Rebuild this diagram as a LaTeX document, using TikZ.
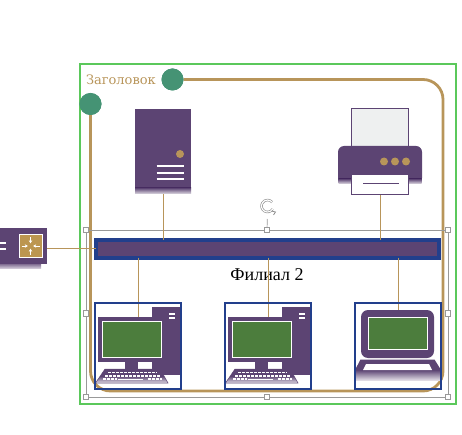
\documentclass[tikz,border=0pt]{standalone}
\usepackage{fontspec}
\setmainfont{Liberation Serif}
\newfontfamily\headfont{DejaVu Serif}
\usepackage{tikz}
\usetikzlibrary{arrows.meta, shapes}

\definecolor{plum}{HTML}{5C4473}
\definecolor{tan}{HTML}{B8955A}
\definecolor{navy}{HTML}{223F8C}
\definecolor{frame}{HTML}{5BC85B}
\definecolor{teal}{HTML}{459374}
\definecolor{screen}{HTML}{4C7D3D}
\definecolor{sheet}{HTML}{EEF0F0}
\definecolor{gold}{HTML}{BC9650}

\tikzset{
  block/.style={inner sep=0pt, outer sep=0pt, rectangle},
  pcbox/.style={block, draw=navy, line width=1.5pt, minimum width=86pt, minimum height=86pt},
  link/.style={draw=tan, line width=1pt},
  handle/.style={block, draw=gray!80, fill=white, line width=0.6pt, minimum size=5.5pt},
  dot/.style={circle, fill=tan, inner sep=0pt, minimum size=8pt},
  pin/.style={circle, fill=teal, inner sep=0pt, minimum size=22pt}
}

% monitor with tower, #1 is the left edge of its box
\newcommand{\pcicon}[1]{
\begin{scope}[xshift=#1pt]
  \fill[plum] (57,307) rectangle (86,375);
  \fill[plum] (3,317) rectangle (70,362);
  \fill[plum] (30,362) rectangle (43,369);
  \draw[white, line width=1pt] (7.5,321.5) rectangle (66,357.5);
  \fill[screen] (8,322) rectangle (65.5,357);
  \foreach \y in {314,318} \draw[white, line width=1.2pt] (74,\y) -- (80,\y);
  \shade[top color=plum, bottom color=plum!20, middle color=plum, draw=plum, line width=0.5pt]
    (10,369) -- (65,369) -- (73,383) -- (0.5,383) -- cycle;
  \foreach \y/\a/\b in {372.5/13/62, 376/10/65, 379/8/22, 379/53/67}
    \draw[white, line width=1.3pt, dash pattern=on 3pt off 1pt] (\a,\y) -- (\b,\y);
  \draw[white, line width=1.5pt] (23,379.5) -- (48,379.5);
\end{scope}
}

\begin{document}
\begin{tikzpicture}[x=1pt, y=-1pt]
\useasboundingbox (0,0) rectangle (462,435);

% outer frame and the heading
\node[block, draw=frame, line width=2pt, minimum width=376.5pt, minimum height=339.5pt] (area) at (267.75,234.25) {};
\node[block, text=tan, font=\fontsize{13}{13}\headfont, anchor=west] (title) at (86,79.5) {Заголовок};

\node[pin] (pinA) at (172.5,79.5) {};
\node[pin] (pinB) at (90.5,104) {};
\draw[tan, line width=2.8pt, rounded corners=20pt] (pinA) -- (443,79.5) -- (443,391) -- (90.5,391) -- (pinB);
\node[pin] at (pinA) {};
\node[pin] at (pinB) {};

% selection
\node[block, draw=gray!80, line width=0.7pt, minimum width=362pt, minimum height=167pt] (sel) at (267,313.5) {};
\foreach \p/\nm in {north west/a, north/b, north east/c, west/d, east/e, south west/f, south/g, south east/h}
  \node[handle] (h\nm) at (sel.\p) {};
\node[block, minimum size=14pt] (rot) at (267.5,212) {};
\draw[gray!80, line width=0.7pt] (hb) -- (rot);
\draw[gray!90, line width=0.6pt, double=white, double distance=1.2pt] (rot.center) ++(30:6pt) arc[start angle=-30, end angle=-320, radius=6pt];
\draw[gray!90, line width=0.8pt] (rot.center) ++(4,-1) -- ++(4,1) -- ++(-2,3);

% network nodes
\node[block, fill=plum, draw=white, minimum width=57pt, minimum height=86pt] (server) at (163,151) {};
\node[block, minimum width=57pt, minimum height=86pt] (printer) at (380,151) {};
\node[block, fill=plum, draw=navy, line width=4pt, minimum width=343pt, minimum height=18pt] (bar) at (267.5,248.5) {};
\node[block, minimum width=57pt, minimum height=36pt, anchor=east] (router) at (47,248.5) {};
\node[pcbox] (pcA) at (138,346) {};
\node[pcbox] (pcB) at (268,346) {};
\node[pcbox] (pcC) at (398,346) {};
\node[block, font=\fontsize{18}{18}\selectfont] (branch) at (267,275) {Филиал 2};

% connectors
\path[link] (server.south) edge (server.south |- bar.north)
            (printer.south) edge (printer.south |- bar.north)
            (router.east) edge (bar.west)
            (bar.south -| pcA) edge (pcA.center)
            (bar.south -| pcB) edge (pcB.center)
            (bar.south -| pcC) edge (pcC.center);

% server
\shade[top color=plum, bottom color=plum!25] (135,188) rectangle (191,193.5);
\node[dot] (lamp) at (180,154) {};
\foreach \y in {166,173,179} \draw[white, line width=1.2pt] (156.5,\y) -- (183.5,\y);

% printer
\draw[plum, fill=sheet, line width=0.7pt] (351,108) rectangle (408,148);
\fill[plum, rounded corners=6pt] (338,184) -- (338,146) -- (422,146) -- (422,184) -- cycle;
\shade[top color=plum, bottom color=plum!25] (338.5,179) rectangle (421.5,183.5);
\draw[plum, fill=white, line width=0.7pt] (351,174) rectangle (408,194);
\draw[plum, line width=0.8pt] (363,183) -- (399,183);
\foreach \x in {384,395,406} \node[dot] at (\x,161.5) {};

% router
\shade[top color=plum, bottom color=plum!25] (-10,262) rectangle (41,268.5);
\fill[plum] (-10,228) rectangle (47,264);
\fill[gold] (19,234.5) rectangle (42,257.5);
\node[block, draw=white, line width=0.4pt, minimum size=23pt] (switch) at (30.5,246) {};
\foreach \dx/\dy in {-9/0, 9/0, 0/-9, 0/9}
  \draw[white, line width=1pt, -{Stealth[length=3pt,width=3.5pt]}] (30.5+\dx,246+\dy) -- (30.5+0.3*\dx,246+0.3*\dy);
\foreach \y in {243,249} \draw[white, line width=1.5pt] (0,\y) -- (6,\y);

% workstations
\pcicon{95}
\pcicon{225}
\node[pcbox] at (pcA) {};
\node[pcbox] at (pcB) {};

% laptop
\fill[plum, rounded corners=7pt] (361,358) -- (361,310) -- (434,310) -- (434,358) -- cycle;
\draw[white, line width=1pt] (368,317) rectangle (427,349);
\fill[screen] (368.5,317.5) rectangle (426.5,348.5);
\fill[plum] (360.5,359.5) -- (434.5,359.5) -- (441,370) -- (355,370) -- cycle;
\shade[top color=plum, bottom color=plum!15] (355,370) rectangle (441,380.5);
\fill[white] (366,364) -- (429,364) -- (432,370) -- (363,370) -- cycle;
\node[pcbox] at (pcC) {};

\end{tikzpicture}
\end{document}
